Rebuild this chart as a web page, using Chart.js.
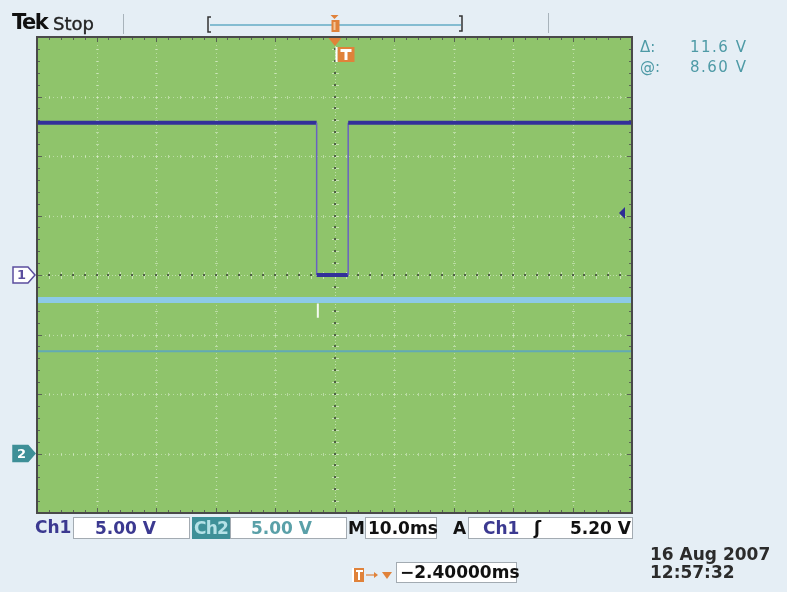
<!DOCTYPE html>
<html>
<head>
<meta charset="utf-8">
<script src="https://cdn.jsdelivr.net/npm/chart.js@4.4.1/dist/chart.umd.min.js"></script>
<style>
  body { margin: 0; background: #E5EEF5; }
  #wrap { position: relative; width: 787px; height: 592px; overflow: hidden; font-family: "DejaVu Sans", sans-serif; }
  #scope { position: absolute; left: 0; top: 0; }
  .t { position: absolute; white-space: nowrap; line-height: 1; }
  .box { position: absolute; background: #fff; border: 1px solid #a3abb2; box-sizing: border-box;
         font-weight: bold; font-size: 17px; line-height: 20px; white-space: nowrap; }
  .b { font-weight: bold; font-size: 17px; }
</style>
</head>
<body>
<div id="wrap">
  <canvas id="scope" width="787" height="592"></canvas>

  <div class="t" style="left:12px;top:12px;font-size:21px;font-weight:bold;letter-spacing:-1.5px;color:#111">Tek</div>
  <div class="t" style="left:53px;top:15px;font-size:18px;color:#222;-webkit-text-stroke:0.4px #222">Stop</div>

  <div class="t" style="left:640px;top:40px;font-size:15px;color:#4E9AA6">Δ:</div>
  <div class="t" id="dValue" style="left:690px;top:40px;font-size:15px;letter-spacing:1.5px;color:#4E9AA6"></div>
  <div class="t" style="left:640px;top:60px;font-size:15px;color:#4E9AA6">@:</div>
  <div class="t" id="aValue" style="left:690px;top:60px;font-size:15px;letter-spacing:1.5px;color:#4E9AA6"></div>

  <div class="t" id="m1" style="left:17px;font-size:13px;font-weight:bold;color:#5B4E9E">1</div>
  <div class="t" id="m2" style="left:17px;font-size:13px;font-weight:bold;color:#fff">2</div>

  <!-- bottom readouts -->
  <div class="t b" style="left:35px;top:519px;color:#3B3990">Ch1</div>
  <div class="box" id="ch1Scale" style="left:73px;top:517px;width:117px;height:22px;padding-left:21px;color:#3B3990"></div>
  <div class="box" style="left:192px;top:517px;width:38px;height:22px;background:#3E9098;border-color:#3E9098;color:#B5E2E7;letter-spacing:-0.8px;padding-left:1px">Ch2</div>
  <div class="box" id="ch2Scale" style="left:230px;top:517px;width:117px;height:22px;padding-left:20px;color:#5AA0A8"></div>
  <div class="t b" style="left:348px;top:520px;color:#111">M</div>
  <div class="box" id="timeScale" style="left:365px;top:517px;width:72px;height:22px;padding-left:2px;color:#111"></div>
  <div class="t b" style="left:453px;top:520px;color:#111">A</div>
  <div class="box" style="left:468px;top:517px;width:165px;height:22px;color:#111">
    <span style="position:absolute;left:14px;color:#3B3990">Ch1</span>
    <span style="position:absolute;left:65px">ʃ</span>
    <span id="trigLevel" style="position:absolute;right:1px"></span>
  </div>
  <div class="box" id="trigPos" style="left:396px;top:562px;width:121px;height:21px;line-height:19px;padding-left:3px;color:#111"></div>
  <div class="t b" style="left:650px;top:546px;color:#2b2b2b">16 Aug 2007</div>
  <div class="t b" style="left:650px;top:564px;color:#2b2b2b">12:57:32</div>
</div>

<script>
// ---- values ----
const timeMs   = [-50, -3.0, -3.0, 2.3, 2.3, 50];   // ch1 pulse
const ch1Volts = [12.8, 12.8, 0.0, 0.0, 12.8, 12.8];
const ch2Time  = [-50, 50];
const ch2Volts = [12.9, 12.9];
const glitchTime  = [-2.8, -2.8];
const glitchVolts = [12.6, 11.4];
const cursorTime  = [-50, 50];
const cursorVolts = [8.6, 8.6];

const voltsPerDiv  = [5.0, 5.0];   // ch1, ch2
const ch2GroundDiv = -3;           // ch2 ground marker, divisions from centre
const timePerDiv   = 10.0;         // ms
const triggerLevel = 5.2;          // V on ch1
const triggerPos   = -2.4;         // ms
const cursorDelta  = 11.6;
const cursorAt     = 8.6;

const pts = (xs, ys) => xs.map((x, i) => ({ x: x, y: ys[i] }));

// graticule + screen furniture
const scopeScreen = {
  id: "scopeScreen",
  beforeDraw(chart) {
    const { ctx, chartArea: a } = chart;
    const w = a.right - a.left, h = a.bottom - a.top;
    const dx = w / 10, dy = h / 8;
    const cx = a.left + 5 * dx, cy = a.top + 4 * dy;
    ctx.save();
    ctx.fillStyle = "#8FC46B";
    ctx.fillRect(a.left, a.top, w, h);

    // division lines: faint dots
    ctx.fillStyle = "rgba(222,240,210,0.55)";
    for (let i = 1; i < 10; i++) {
      if (i === 5) continue;
      const x = Math.round(a.left + i * dx);
      for (let y = a.top; y < a.bottom; y += 4) ctx.fillRect(x, y, 1, 1);
      for (let j = 1; j < 40; j++) ctx.fillRect(x - 1, Math.round(a.top + j * dy / 5), 3, 1);
    }
    for (let i = 1; i < 8; i++) {
      if (i === 4) continue;
      const y = Math.round(a.top + i * dy);
      for (let x = a.left; x < a.right; x += 4) ctx.fillRect(x, y, 1, 1);
      for (let j = 1; j < 50; j++) ctx.fillRect(Math.round(a.left + j * dx / 5), y - 1, 1, 3);
    }

    // centre lines with dark minor ticks
    ctx.fillStyle = "rgba(222,240,210,0.6)";
    for (let y = a.top; y < a.bottom; y += 3) ctx.fillRect(Math.round(cx), y, 1, 1);
    for (let x = a.left; x < a.right; x += 3) ctx.fillRect(x, Math.round(cy), 1, 1);
    for (let j = 1; j < 40; j++) {
      const y = Math.round(a.top + j * dy / 5);
      ctx.fillStyle = "rgba(222,240,210,0.7)";
      ctx.fillRect(Math.round(cx) - 3, y, 7, 1);
      ctx.fillStyle = "#4F6046";
      ctx.fillRect(Math.round(cx) - 1, y - 1, 2, 2);
    }
    for (let j = 1; j < 50; j++) {
      const x = Math.round(a.left + j * dx / 5);
      ctx.fillStyle = "rgba(222,240,210,0.7)";
      ctx.fillRect(x, Math.round(cy) - 3, 1, 7);
      ctx.fillStyle = "#4F6046";
      ctx.fillRect(x - 1, Math.round(cy) - 1, 2, 2);
    }

    // frame ticks
    ctx.fillStyle = "#5A6455";
    for (let j = 1; j < 50; j++) {
      const x = Math.round(a.left + j * dx / 5);
      ctx.fillRect(x, a.top, 1, j % 5 ? 3 : 5);
      ctx.fillRect(x, a.bottom - (j % 5 ? 3 : 5), 1, j % 5 ? 3 : 5);
    }
    for (let j = 1; j < 40; j++) {
      const y = Math.round(a.top + j * dy / 5);
      ctx.fillRect(a.left, y, j % 5 ? 3 : 5, 1);
      ctx.fillRect(a.right - (j % 5 ? 3 : 5), y, j % 5 ? 3 : 5, 1);
    }
    ctx.restore();
  },
  afterDraw(chart) {
    const { ctx, chartArea: a, scales } = chart;
    ctx.save();
    // frame
    ctx.strokeStyle = "#4A4A4A";
    ctx.lineWidth = 2;
    ctx.strokeRect(a.left, a.top, a.right - a.left, a.bottom - a.top);

    // top bar separators
    ctx.strokeStyle = "#A8B3BB";
    ctx.lineWidth = 1;
    ctx.beginPath();
    ctx.moveTo(123.5, 14); ctx.lineTo(123.5, 34);
    ctx.moveTo(548.5, 13); ctx.lineTo(548.5, 33);
    ctx.stroke();

    // record view bracket
    ctx.strokeStyle = "#84BCD1";
    ctx.lineWidth = 2;
    ctx.beginPath(); ctx.moveTo(210, 25); ctx.lineTo(461, 25); ctx.stroke();
    ctx.strokeStyle = "#333";
    ctx.lineWidth = 1.5;
    ctx.beginPath();
    ctx.moveTo(211, 17); ctx.lineTo(208, 17); ctx.lineTo(208, 32); ctx.lineTo(211, 32);
    ctx.moveTo(459, 16); ctx.lineTo(462, 16); ctx.lineTo(462, 31); ctx.lineTo(459, 31);
    ctx.stroke();

    const tx = scales.x.getPixelForValue(0);
    const orange = "#E0823A";
    // trigger position marker in record bar
    ctx.fillStyle = orange;
    ctx.beginPath(); ctx.moveTo(tx - 4, 15); ctx.lineTo(tx + 4, 15); ctx.lineTo(tx, 19); ctx.fill();
    ctx.fillRect(tx - 3, 20, 8, 12);
    ctx.fillStyle = "#F4C79A";
    ctx.fillRect(tx - 1, 22, 2, 8);
    // trigger marker under graticule top
    ctx.fillStyle = orange;
    ctx.beginPath(); ctx.moveTo(tx - 6, 38); ctx.lineTo(tx + 7, 38); ctx.lineTo(tx + 0.5, 46); ctx.fill();
    ctx.fillRect(tx + 3, 47, 17, 15);
    ctx.fillStyle = "#fff";
    ctx.fillRect(tx + 1, 47, 2, 15);
    ctx.fillRect(tx + 6, 49, 11, 3);
    ctx.fillRect(tx + 10, 49, 3, 11);

    // channel ground markers
    const y1 = scales.y.getPixelForValue(0);
    const y2 = scales.y2.getPixelForValue(0);
    const marker = (y, fill, stroke) => {
      ctx.beginPath();
      ctx.moveTo(13, y - 8); ctx.lineTo(28, y - 8); ctx.lineTo(35, y);
      ctx.lineTo(28, y + 8); ctx.lineTo(13, y + 8); ctx.closePath();
      ctx.fillStyle = fill; ctx.fill();
      ctx.strokeStyle = stroke; ctx.lineWidth = 1.5; ctx.stroke();
    };
    marker(y1, "#fff", "#5B4E9E");
    marker(y2, "#3E8F97", "#3E8F97");

    // trigger level arrow
    const yt = scales.y.getPixelForValue(triggerLevel);
    ctx.fillStyle = "#2F2C96";
    ctx.beginPath(); ctx.moveTo(619, yt); ctx.lineTo(625, yt - 6); ctx.lineTo(625, yt + 6); ctx.fill();

    // trigger position icon in bottom row
    ctx.fillStyle = orange;
    ctx.fillRect(352, 568, 12, 14);
    ctx.fillStyle = "#fff";
    ctx.fillRect(352, 568, 2, 14);
    ctx.fillRect(356, 570, 7, 2);
    ctx.fillRect(358, 570, 2, 10);
    ctx.strokeStyle = orange; ctx.lineWidth = 1.2;
    ctx.beginPath(); ctx.moveTo(366, 575); ctx.lineTo(376, 575); ctx.stroke();
    ctx.fillStyle = orange;
    ctx.beginPath(); ctx.moveTo(374, 572); ctx.lineTo(378, 575); ctx.lineTo(374, 578); ctx.fill();
    ctx.beginPath(); ctx.moveTo(382, 572); ctx.lineTo(392, 572); ctx.lineTo(387, 579); ctx.fill();
    ctx.restore();

    document.getElementById("m1").style.top = (y1 - 7) + "px";
    document.getElementById("m2").style.top = (y2 - 7) + "px";
  }
};

const scope = new Chart(document.getElementById("scope"), {
  type: "scatter",
  data: {
    datasets: [
      {
        label: "ch1",
        data: pts(timeMs, ch1Volts),
        yAxisID: "y",
        showLine: true,
        borderColor: "#33309A",
        borderWidth: 4,
        pointRadius: 0,
        segment: {
          borderWidth: (c) => (c.p0.parsed.x === c.p1.parsed.x ? 1.5 : 4),
          borderColor: (c) => (c.p0.parsed.x === c.p1.parsed.x ? "#6A62C0" : "#33309A"),
        },
      },
      {
        label: "glitch",
        data: pts(glitchTime, glitchVolts),
        yAxisID: "y2",
        showLine: true,
        borderColor: "#F4FAF0",
        borderWidth: 2,
        pointRadius: 0,
      },
      {
        label: "ch2",
        data: pts(ch2Time, ch2Volts),
        yAxisID: "y2",
        showLine: true,
        borderColor: "#8DCAE8",
        borderWidth: 6,
        pointRadius: 0,
      },
      {
        label: "cursor",
        data: pts(cursorTime, cursorVolts),
        yAxisID: "y2",
        showLine: true,
        borderColor: "#62AAB4",
        borderWidth: 2,
        pointRadius: 0,
      },
    ],
  },
  options: {
    responsive: false,
    animation: false,
    layout: { padding: { left: 37, top: 37, right: 155, bottom: 79 } },
    scales: {
      x: { type: "linear", min: -5 * timePerDiv, max: 5 * timePerDiv, display: false },
      y: { min: -4 * voltsPerDiv[0], max: 4 * voltsPerDiv[0], display: false },
      // ch2 ground sits 3 divisions below centre
      y2: { min: (-4 - ch2GroundDiv) * voltsPerDiv[1], max: (4 - ch2GroundDiv) * voltsPerDiv[1], display: false },
    },
    plugins: { legend: { display: false }, tooltip: { enabled: false } },
  },
  plugins: [scopeScreen],
});

// readout texts
document.getElementById("dValue").textContent = cursorDelta.toFixed(1) + " V";
document.getElementById("aValue").textContent = cursorAt.toFixed(2) + " V";
document.getElementById("ch1Scale").textContent = voltsPerDiv[0].toFixed(2) + " V";
document.getElementById("ch2Scale").textContent = voltsPerDiv[1].toFixed(2) + " V";
document.getElementById("timeScale").textContent = timePerDiv.toFixed(1) + "ms";
document.getElementById("trigLevel").textContent = triggerLevel.toFixed(2) + " V";
document.getElementById("trigPos").textContent = "\u2212" + Math.abs(triggerPos).toFixed(5) + "ms";
</script>
</body>
</html>
